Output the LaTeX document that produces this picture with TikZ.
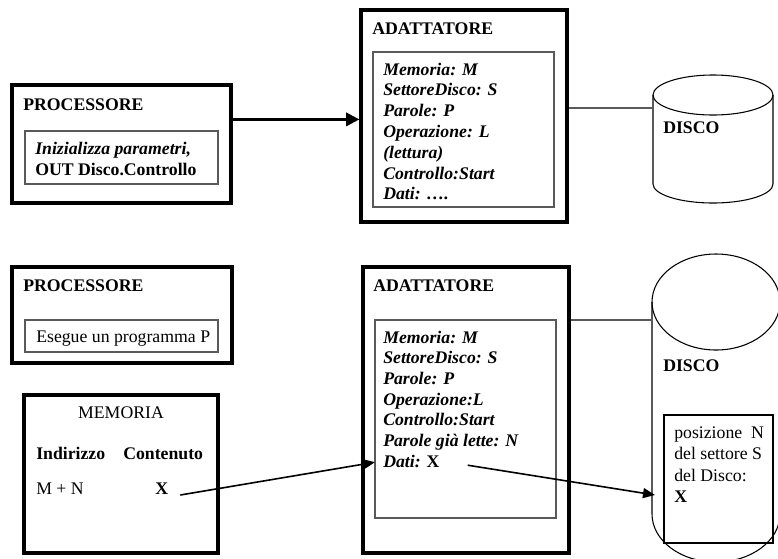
\documentclass[tikz,border=0pt]{standalone}
\usepackage{fontspec}
\setmainfont{Liberation Serif}
\usetikzlibrary{arrows.meta,fit,calc}
\newcommand\dfs{\fontsize{13.3pt}{15.5pt}\selectfont}
\begin{document}
\begin{tikzpicture}[x=0.75pt,y=-0.75pt,
  outerbox/.style={draw, line width=2.4pt, inner sep=0pt},
  innerbox/.style={draw=black!65, line width=0.8pt, inner sep=0pt},
  tr/.style={anchor=base west, inner sep=0pt, font=\dfs},
  tb/.style={anchor=base west, inner sep=0pt, font=\dfs\bfseries},
  tbi/.style={anchor=base west, inner sep=0pt, font=\dfs\bfseries\itshape},
  bigarrow/.style={line width=2pt, -{Triangle[length=10pt,width=10pt]}},
  arrow/.style={line width=1.2pt, -{Triangle[length=9pt,width=7.5pt]}},
  link/.style={draw=black!65, line width=0.8pt},
  diskline/.style={line width=0.8pt}
]
\useasboundingbox (0,0) rectangle (778,558);
\clip (0,0) rectangle (778,558);

% ---------- top row ----------
\node[outerbox, fit={(12,85)(231,203)}] (procA) {};
\node[innerbox, fit={(25,131)(218,184)}] (procAin) {};
\node[tb] (procAt) at (23,110) {PROCESSORE};
\node[tbi] (procA1) at (35,154) {Inizializza parametri,};
\node[tb] (procA2) at (35,175) {OUT Disco.Controllo};

\node[outerbox, fit={(361,10)(567,222)}] (adaA) {};
\node[innerbox, fit={(373,52)(554,207)}] (adaAin) {};
\node[tb] (adaAt) at (372,34) {ADATTATORE};
\node[tbi] (adaA1) at (383,75) {Memoria: M};
\node[tbi] (adaA2) at (383,95.8) {SettoreDisco: S};
\node[tbi] (adaA3) at (383,116.6) {Parole: P};
\node[tbi] (adaA4) at (383,137.4) {Operazione: L};
\node[tbi] (adaA5) at (383,158.2) {(lettura)};
\node[tbi] (adaA6) at (383,179) {Controllo:Start};
\node[tbi] (adaA7) at (383,199.8) {Dati: \dots.};

% top disk
\draw[diskline] (713,95) ellipse [x radius=60, y radius=20];
\draw[diskline] (653,95) -- (653,184) arc[start angle=180, end angle=0, x radius=60, y radius=19] -- (773,95);
\node[tb] (discoA) at (663,133) {DISCO};
\coordinate (d1) at (653,108);

\path ($(procA.north east)!0.297!(procA.south east)$) coordinate (pOut);
\draw[bigarrow] (pOut) -- (adaA.west |- pOut);
\draw[link] (adaA.east |- d1) -- (d1);

% ---------- bottom row ----------
\node[outerbox, fit={(12,267)(232,363)}] (procB) {};
\node[innerbox, fit={(25,320)(218,352)}] (procBin) {};
\node[tb] (procBt) at (23,291) {PROCESSORE};
\node[tr] (procB1) at (36,342) {Esegue un programma P};

\node[outerbox, fit={(24,395)(218,553)}] (mem) {};
\node[tr, anchor=base] (memT) at (121,418) {MEMORIA};
\node[tb] (memI) at (36,459) {Indirizzo};
\node[tb] (memC) at (123,459) {Contenuto};
\node[tr] (memA) at (36,494) {M + N};
\node[tb] (memX) at (155,494) {X};

\node[outerbox, fit={(363,267)(569,553)}] (adaB) {};
\node[innerbox, fit={(375,320)(556,518)}] (adaBin) {};
\node[tb] (adaBt) at (373,291) {ADATTATORE};
\node[tbi] (adaB1) at (383,343) {Memoria: M};
\node[tbi] (adaB2) at (383,363.7) {SettoreDisco: S};
\node[tbi] (adaB3) at (383,384.4) {Parole: P};
\node[tbi] (adaB4) at (383,405.1) {Operazione:L};
\node[tbi] (adaB5) at (383,425.8) {Controllo:Start};
\node[tbi] (adaB6) at (383,446.5) {Parole già lette: N};
\node[tbi] (datiB) at (383,467.2) {Dati: {\upshape X}};

% bottom disk
\draw[diskline] (716,302) ellipse [x radius=64, y radius=48];
\draw[diskline] (652,302) -- (652,514) arc[start angle=180, end angle=0, x radius=64, y radius=48] -- (780,302);
\node[tb] (discoB) at (663,371) {DISCO};
\node[draw, line width=0.8pt, inner sep=0pt, fit={(664,415)(773,543)}] (sect) {};
\node[tr] (sect1) at (674,438) {posizione\ \ N};
\node[tr] (sect2) at (674,459.5) {del settore S};
\node[tr] (sect3) at (674,481) {del Disco:};
\node[tb] (sect4) at (674,502) {X};
\coordinate (d2) at (652,320);
\coordinate (d2s) at (655,495);

\draw[link] (adaB.east |- d2) -- (d2);
\draw[arrow] ($(memX.base east)+(12,1)$) -- ($(datiB.base west)+(-8,-5)$);
\draw[arrow] ($(datiB.base east)+(28,-2)$) -- (d2s);
\end{tikzpicture}
\end{document}
